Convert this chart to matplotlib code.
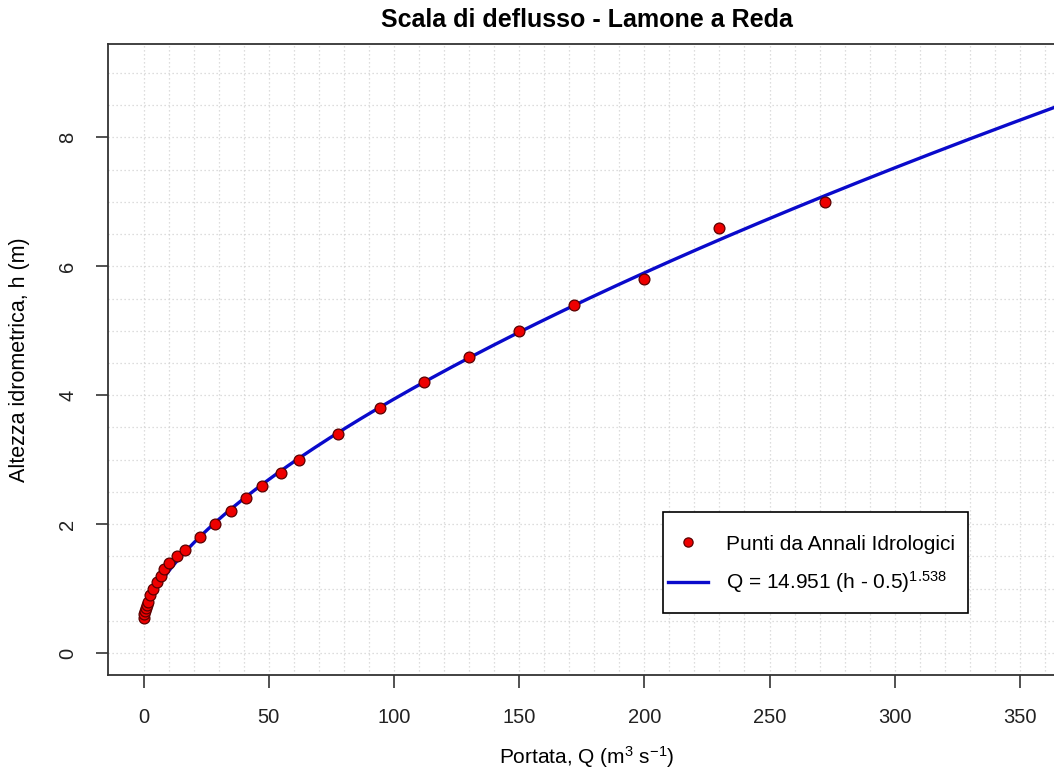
import numpy as np
import matplotlib
matplotlib.use("Agg")
from matplotlib import pyplot as plt
from matplotlib.patches import Rectangle

plt.rcParams['font.family'] = ['Liberation Sans', 'DejaVu Sans']
plt.rcParams['mathtext.fontset'] = 'custom'
plt.rcParams['mathtext.rm'] = 'Liberation Sans'
plt.rcParams['mathtext.it'] = 'Liberation Sans:italic'

portata = [0.1, 0.25, 0.5, 0.8, 1.2, 1.7, 2.6, 3.9, 5.4, 6.8, 8.3, 10.3, 13.3, 16.5,
           22.6, 28.7, 35.1, 40.9, 47.2, 54.8, 62.2, 77.7, 94.6, 112, 130, 150,
           172, 200, 230, 272]
altezza = [0.55, 0.6, 0.65, 0.7, 0.75, 0.8, 0.9, 1.0, 1.1, 1.2, 1.3, 1.4, 1.5, 1.6,
           1.8, 2.0, 2.2, 2.4, 2.6, 2.8, 3.0, 3.4, 3.8, 4.2, 4.6, 5.0,
           5.4, 5.8, 6.6, 7.0]

# parametri della scala di deflusso (dalla legenda)
coef_a = 14.951
h0 = 0.5
esp_b = 1.538

x_ticks = [0, 50, 100, 150, 200, 250, 300, 350]
y_ticks = [0, 2, 4, 6, 8]

h_curve = np.linspace(h0, 9.0, 400)
q_curve = coef_a * (h_curve - h0) ** esp_b

W, H = 1054, 776
ax_l, ax_r, ax_t, ax_b = 108, 1068, 44, 675

fig = plt.figure(figsize=(W / 100, H / 100), dpi=100)
ax = fig.add_axes([ax_l / W, 1 - ax_b / H, (ax_r - ax_l) / W, (ax_b - ax_t) / H])

# griglia fine
for gx in np.arange(0, 370, 10):
    ax.axvline(gx, color='#d2d2d2', lw=0.9, ls=(0, (1, 2.2)), zorder=0)
for gy in np.arange(0, 9.5, 0.5):
    ax.axhline(gy, color='#d2d2d2', lw=0.9, ls=(0, (1, 2.2)), zorder=0)

ax.plot(q_curve, h_curve, color='#0a0acb', lw=2.4, zorder=2,
        label=r'Q = 14.951 (h - 0.5)$^{1.538}$')
ax.plot(portata, altezza, ls='none', marker='o', ms=7.8, mfc='#ee0000', mec='#5a0000',
        mew=0.9, zorder=3, label='Punti da Annali Idrologici')

ax.set_xlim(-14.2, 369.2)
ax.set_ylim(-0.34, 9.45)
ax.set_xticks(x_ticks)
ax.set_yticks(y_ticks)
ax.tick_params(length=9, width=1.1, labelsize=14.5, pad=13, colors='#222222')
ax.tick_params(axis='x', pad=15)
for lab in ax.get_yticklabels():
    lab.set_rotation(90)
    lab.set_va('center')
for s in ax.spines.values():
    s.set_linewidth(1.3)
    s.set_color('#333333')

# legenda: cornice disegnata a parte
aw, ah = ax_r - ax_l, ax_b - ax_t
ax.add_patch(Rectangle(((663 - ax_l) / aw, (ax_b - 613) / ah), (968 - 663) / aw, (613 - 512) / ah,
                       transform=ax.transAxes, facecolor='white', edgecolor='black',
                       lw=1.2, zorder=4))
h, l = ax.get_legend_handles_labels()
leg = ax.legend([h[1], h[0]], [l[1], l[0]], loc='center left',
                bbox_to_anchor=((668 - ax_l) / aw, (ax_b - 565) / ah),
                fontsize=15, frameon=False, borderpad=0, borderaxespad=0,
                labelspacing=0.75, handlelength=1.9, handletextpad=0.9,
                markerscale=0.85)
leg.set_zorder(5)

fig.text(587 / W, 1 - 20 / H, 'Scala di deflusso - Lamone a Reda',
         ha='center', va='center', fontsize=18, fontweight='bold')
fig.text(587 / W, 1 - 757 / H, r'Portata, Q (m$^3$ s$^{-1}$)',
         ha='center', va='center', fontsize=15)
fig.text(20 / W, 1 - 360 / H, 'Altezza idrometrica, h (m)',
         ha='center', va='center', fontsize=15.5, rotation=90)

fig.savefig('out.png', dpi=100)
